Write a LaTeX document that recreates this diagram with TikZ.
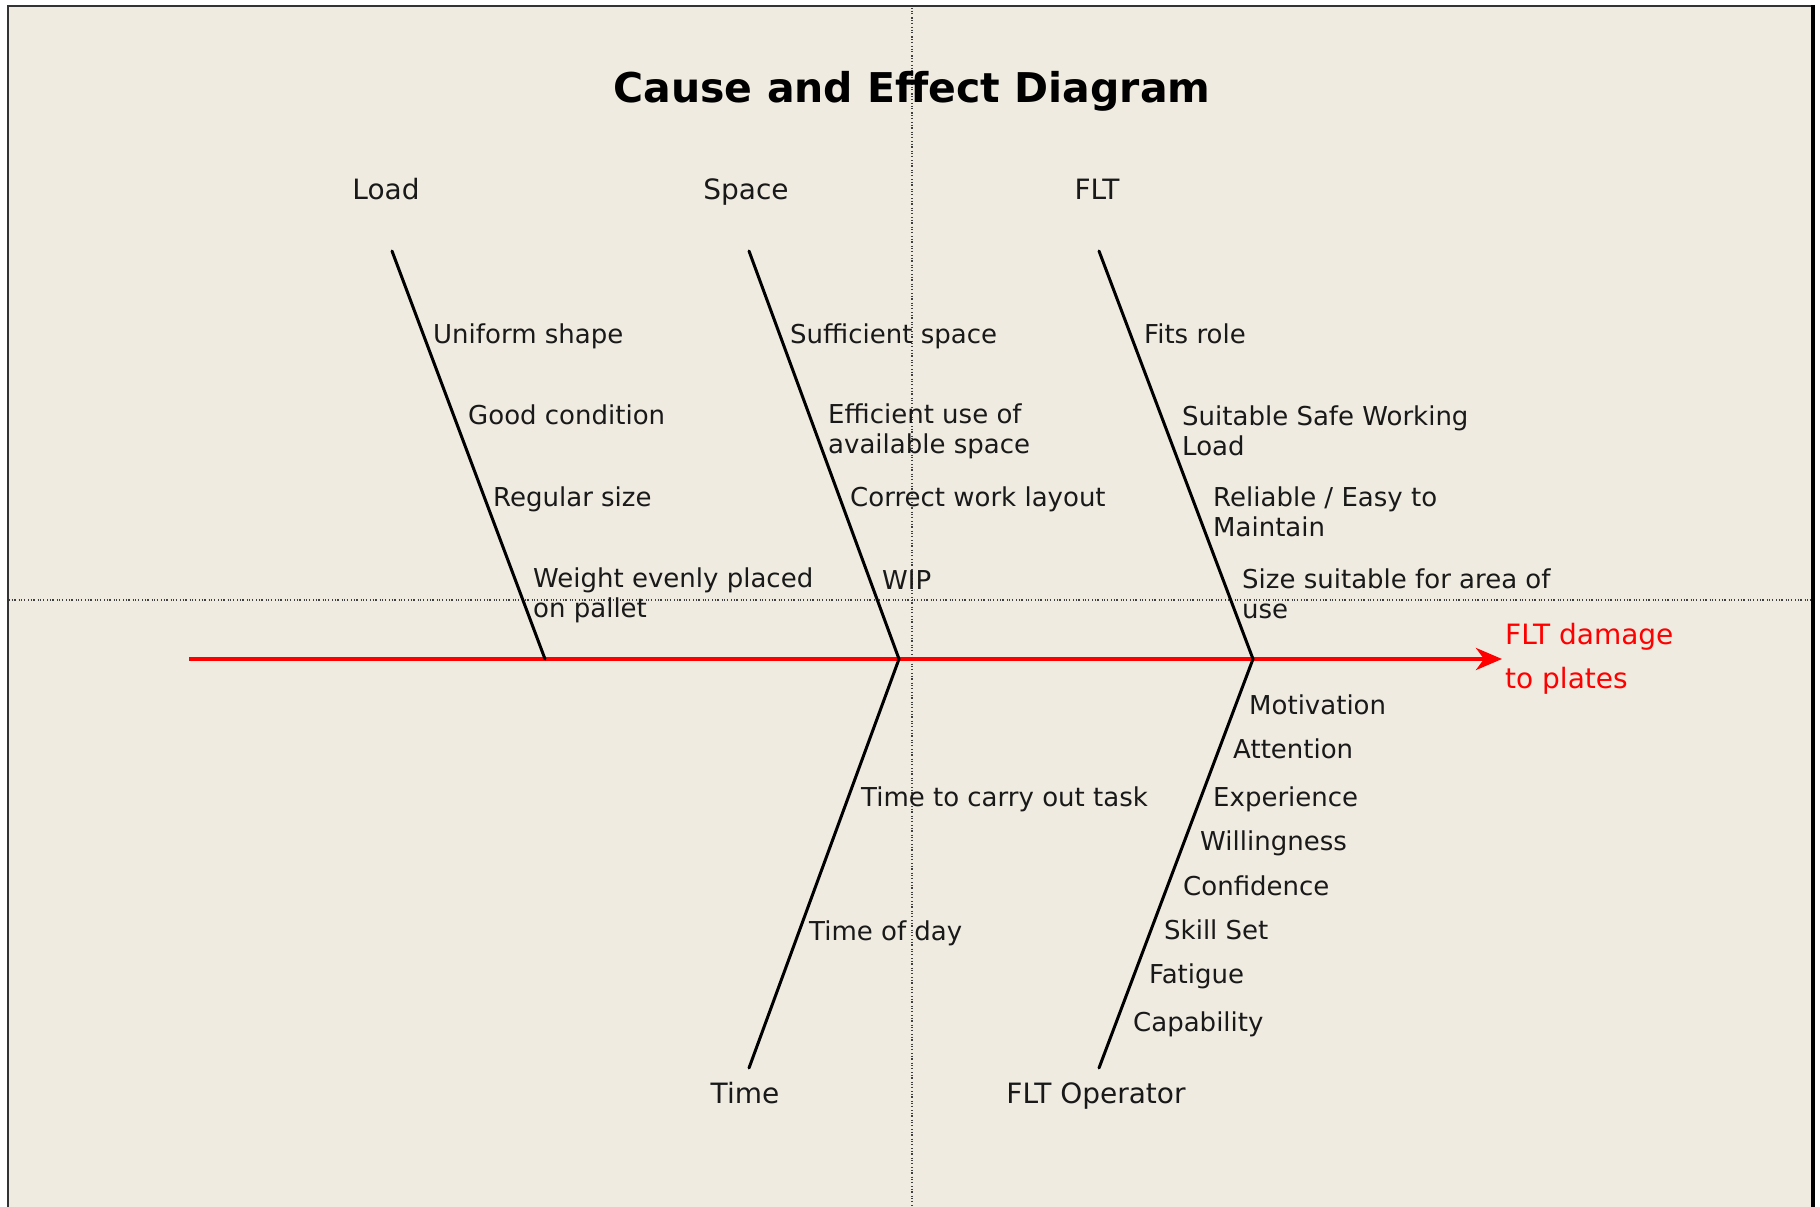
\documentclass[tikz,border=0pt]{standalone}
\usepackage{fontspec}
\setmainfont{DejaVu Sans}
\usetikzlibrary{arrows.meta}
\definecolor{bg}{RGB}{239,235,225}
\definecolor{txt}{RGB}{25,25,25}
\begin{document}
\begin{tikzpicture}[x=1pt,y=-1pt,
  cause/.style={anchor=west, inner sep=0pt, align=left, text=txt,
    font=\fontsize{26}{30}\selectfont},
  one/.style={text height=19pt, text depth=5pt},
  cat/.style={anchor=center, inner sep=0pt, text=txt, text height=20pt, text depth=6pt,
    font=\fontsize{28}{32}\selectfont},
  bone/.style={line width=3pt, black, line cap=round, line join=round},
  spine/.style={line width=4pt, red, -{Stealth[length=26pt,width=22pt,inset=8pt]}},
  guide/.style={line width=1.2pt, black!75, dash pattern=on 1.3pt off 1.3pt on 1.3pt off 1.3pt on 1.3pt off 3pt}
]
\useasboundingbox (0,0) rectangle (1820,1207);
\fill[white] (0,0) rectangle (1820,1207);
\fill[bg] (8,6) rectangle (1813,1207);
\draw[line width=2.5pt, black!80] (8,1207) -- (8,6) -- (1813,6);
\draw[line width=3.5pt, black] (1813,5) -- (1813,1207);

% guide lines
\draw[guide] (912,8) -- (912,1207);
\draw[guide] (9,600) -- (1811,600);

% title
\node[font=\fontsize{41}{46}\selectfont\bfseries, text=black] (title) at (912,91) {Cause and Effect Diagram};

% coordinates
\coordinate (tail) at (189,659);
\coordinate (j1) at (545,659);
\coordinate (j2) at (899,659);
\coordinate (j3) at (1253,659);
\coordinate (t1) at (392,251);
\coordinate (t2) at (749,251);
\coordinate (t3) at (1099,251);
\coordinate (b2) at (749,1068);
\coordinate (b3) at (1099,1068);

% effect
\node[anchor=west, inner xsep=3pt, inner ysep=0pt, align=left, text=red,
  font=\fontsize{28}{44}\selectfont] (effect) at (1502,659) {FLT damage\\to plates};
\draw[spine] (tail) -- (tail -| effect.west);

% bones
\draw[bone] (t1) -- (j1);
\draw[bone] (t2) -- (j2);
\draw[bone] (t3) -- (j3);
\draw[bone] (j2) -- (b2);
\draw[bone] (j3) -- (b3);

% categories
\node[cat] (load) at (386,192) {Load};
\node[cat] (space) at (746,192) {Space};
\node[cat] (flt) at (1097,192) {FLT};
\node[cat] (time) at (745,1096) {Time};
\node[cat] (oper) at (1096,1096) {FLT Operator};

% Load causes
\node[cause,one] (l1) at (433,336) {Uniform shape};
\node[cause,one] (l2) at (468,417) {Good condition};
\node[cause,one] (l3) at (493,499) {Regular size};
\node[cause] (l4) at (533,595) {Weight evenly placed\\on pallet};

% Space causes
\node[cause,one] (s1) at (790,336) {Sufficient space};
\node[cause] (s2) at (828,431) {Efficient use of\\available space};
\node[cause,one] (s3) at (850,499) {Correct work layout};
\node[cause,one] (s4) at (882,582) {WIP};

% FLT causes
\node[cause,one] (f1) at (1144,336) {Fits role};
\node[cause] (f2) at (1182,431) {Suitable Safe Working\\Load};
\node[cause] (f3) at (1213,512) {Reliable / Easy to\\Maintain};
\node[cause] (f4) at (1242,594) {Size suitable for area of\\use};

% Time causes
\node[cause,one] (ti1) at (861,799) {Time to carry out task};
\node[cause,one] (ti2) at (809,933) {Time of day};

% Operator causes
\node[cause,one] (o1) at (1249,707) {Motivation};
\node[cause,one] (o2) at (1233,751) {Attention};
\node[cause,one] (o3) at (1213,799) {Experience};
\node[cause,one] (o4) at (1200,843) {Willingness};
\node[cause,one] (o5) at (1183,888) {Confidence};
\node[cause,one] (o6) at (1164,932) {Skill Set};
\node[cause,one] (o7) at (1149,976) {Fatigue};
\node[cause,one] (o8) at (1133,1024) {Capability};
\end{tikzpicture}
\end{document}
